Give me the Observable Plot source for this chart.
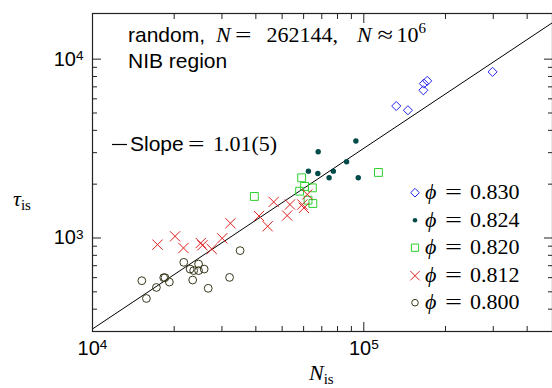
<!DOCTYPE html>
<html><head><meta charset="utf-8">
<script src="https://cdn.jsdelivr.net/npm/d3@7"></script>
<script src="https://cdn.jsdelivr.net/npm/@observablehq/plot@0.6"></script>
<style>body{margin:0;background:#fff}#chart svg{display:block}</style>
</head><body><div id="chart"></div>
<script>
// ---- data (N_is, tau_is) ----
const N830 = [1.317e5, 1.454e5, 1.657e5, 1.665e5, 1.713e5, 2.982e5];
const T830 = [5470, 5180, 6700, 7300, 7560, 8490];
const N824 = [6.25e4, 6.77e4, 6.79e4, 7.72e4, 7.45e4, 8.64e4, 9.35e4, 9.54e4];
const T824 = [2365, 2296, 3034, 2365, 2170, 2667, 3484, 2170];
const N820 = [3.95e4, 5.90e4, 6.05e4, 5.80e4, 6.46e4, 6.23e4, 6.49e4, 1.132e5];
const T820 = [1707, 2170, 1942, 1827, 1907, 1627, 1559, 2325];
const N812 = [1.736e4, 2.015e4, 2.164e4, 2.506e4, 2.542e4, 2.751e4, 3.006e4, 3.224e4, 4.108e4, 4.422e4, 4.654e4, 5.218e4, 5.344e4, 5.935e4, 6.016e4, 6.19e4];
const T812 = [918, 1022, 879, 937, 910, 868, 996, 1209, 1328, 1163, 1591, 1335, 1539, 1539, 1473, 1751];
const N800 = [1.52e4, 1.58e4, 1.72e4, 1.83e4, 1.85e4, 1.92e4, 2.17e4, 2.29e4, 2.36e4, 2.46e4, 2.46e4, 2.58e4, 2.34e4, 2.67e4, 3.20e4, 3.50e4];
const T800 = [577, 459, 529, 600, 600, 567, 731, 670, 657, 715, 657, 670, 582, 523, 602, 850];
// fit line endpoints (slope 1.01)
const fitN = [1e4, 4.96e5];
const fitT = [310, 16000];
const phiLabels = ["0.830", "0.824", "0.820", "0.812", "0.800"];
const xMajor = [1e4, 1e5];
const xMinor = [2e4, 3e4, 4e4, 5e4, 6e4, 7e4, 8e4, 9e4, 2e5, 3e5, 4e5];
const yMajor = [1e3, 1e4];
const yMinor = [400, 500, 600, 700, 800, 900, 2000, 3000, 4000, 5000, 6000, 7000, 8000, 9000];

const styles = [
  {symbol: "diamond2", stroke: "#2424f0", fill: "none", r: 4.1, legR: 3.9},
  {symbol: "circle", stroke: "none", fill: "#004a4a", r: 2.7, legR: 2.3},
  {symbol: "square2", stroke: "#2ed02e", fill: "none", r: 5.0, legR: 4.6},
  {symbol: "times", stroke: "#e02020", fill: "none", r: 4.7, legR: 4.3},
  {symbol: "circle", stroke: "#38381c", fill: "none", r: 3.9, legR: 3.3}
];
const seriesN = [N830, N824, N820, N812, N800];
const seriesT = [T830, T824, T820, T812, T800];
const fitRows = fitN.map((n, i) => ({n, t: fitT[i]}));

const dotMarks = seriesN.map((arr, s) => {
  const st = styles[s];
  const rows = arr.map((n, i) => ({n, t: seriesT[s][i]}));
  return Plot.dot(rows, {x: "n", y: "t", symbol: () => st.symbol, r: st.r,
    stroke: st.stroke, fill: st.fill, strokeWidth: 1});
});

const sup = d => "10^" + Math.round(Math.log10(d));
const tickStroke = "#222";
const MJ = 9, MN = 5;

const chart = Plot.plot({
  width: 552, height: 388,
  marginLeft: 92, marginRight: 0, marginTop: 13, marginBottom: 57,
  style: {fontFamily: "'Liberation Sans', Arial, sans-serif", fontSize: "20px", background: "#fff", color: "#000"},
  x: {type: "log", domain: [1e4, 4.96e5]},
  y: {type: "log", domain: [300, 1.8e4]},
  symbol: {type: "identity"},
  marks: [
    Plot.line(fitRows, {x: "n", y: "t", stroke: "black", strokeWidth: 1, clip: true}),
    ...dotMarks,
    // inward ticks on all four sides (outward ticks shifted inside the frame)
    Plot.axisX({ticks: xMajor, anchor: "bottom", tickSize: MJ, dy: -MJ, text: null, label: null, stroke: tickStroke}),
    Plot.axisX({ticks: xMinor, anchor: "bottom", tickSize: MN, dy: -MN, text: null, label: null, stroke: tickStroke}),
    Plot.axisX({ticks: xMajor, anchor: "top", tickSize: MJ, dy: MJ, text: null, label: null, stroke: tickStroke}),
    Plot.axisX({ticks: xMinor, anchor: "top", tickSize: MN, dy: MN, text: null, label: null, stroke: tickStroke}),
    Plot.axisY({ticks: yMajor, anchor: "left", tickSize: MJ, dx: MJ, text: null, label: null, stroke: tickStroke}),
    Plot.axisY({ticks: yMinor, anchor: "left", tickSize: MN, dx: MN, text: null, label: null, stroke: tickStroke}),
    Plot.axisY({ticks: yMajor, anchor: "right", tickSize: MJ, dx: -MJ, text: null, label: null, stroke: tickStroke}),
    Plot.axisY({ticks: yMinor, anchor: "right", tickSize: MN, dx: -MN, text: null, label: null, stroke: tickStroke}),
    // tick labels
    Plot.axisX({ticks: xMajor, anchor: "bottom", tickSize: 0, tickPadding: 9, tickFormat: sup, label: null}),
    Plot.axisY({ticks: yMajor, anchor: "left", tickSize: 0, tickPadding: 9, tickFormat: sup, label: null}),
    Plot.frame({stroke: "#222", strokeWidth: 1.2})
  ]
});
document.getElementById("chart").appendChild(chart);

const svg = d3.select(chart);
// convert 10^k labels to superscripts
svg.selectAll("text").each(function() {
  const t = this.textContent;
  const m = /^10\^(\d+)$/.exec(t);
  if (!m) return;
  const el = d3.select(this);
  el.text(null);
  el.append("tspan").text("10");
  el.append("tspan").attr("dy", "-0.42em").attr("font-size", "0.68em").text(m[1]);
});

const SERIF = "'Liberation Serif', 'DejaVu Serif', serif";
const SANS = "'Liberation Sans', Arial, sans-serif";
const g = svg.append("g").attr("text-anchor", "start");

// helper: a text with positioned pieces [x, string, {attrs}]
function pieces(y, parts, baseFont, baseSize) {
  const t = g.append("text").attr("y", y).attr("font-family", baseFont).attr("font-size", baseSize);
  parts.forEach(([x, s, a]) => {
    const sp = t.append("tspan").attr("x", x).text(s);
    if (a) Object.entries(a).forEach(([k, v]) => sp.attr(k, v));
  });
  return t;
}
const M = {"font-family": SERIF, "font-size": 22};
const MI = {"font-family": SERIF, "font-size": 22, "font-style": "italic"};
const EQ = w => ({"font-family": SERIF, "font-size": 22, textLength: w, lengthAdjust: "spacingAndGlyphs"});

// Annotation line 1
const t1 = pieces(42, [
  [128, "random,", null],
  [216, "N", MI],
  [235, "=", EQ(16.5)],
  [266.5, "262144,", M],
  [357, "N", MI],
  [377.5, "\u2248", EQ(15.5)],
  [396.5, "10", M]
], SANS, 21);
t1.append("tspan").attr("font-family", SERIF).attr("font-size", 15).attr("dy", -9).text("6");
g.append("text").attr("x", 128).attr("y", 67.5).attr("font-family", SANS).attr("font-size", 21).text("NIB region");

// slope legend entry
g.append("line").attr("x1", 112).attr("x2", 127).attr("y1", 144.5).attr("y2", 144.5).attr("stroke", "black").attr("stroke-width", 1.2);
pieces(151, [
  [130, "Slope", null],
  [188, "=", EQ(16.5)],
  [213, "1.01(5)", M]
], SANS, 21);

// phi legend
const symMap = {diamond2: d3.symbolDiamond2, circle: d3.symbolCircle, square2: d3.symbolSquare2, times: d3.symbolTimes};
const rowY = [192.7, 220.2, 247.7, 275.7, 302.7];
phiLabels.forEach((lab, i) => {
  const st = styles[i];
  g.append("path")
    .attr("transform", `translate(415,${rowY[i]})`)
    .attr("d", d3.symbol(symMap[st.symbol], Math.PI * st.legR * st.legR)())
    .attr("fill", st.fill).attr("stroke", st.stroke).attr("stroke-width", 1);
  pieces(rowY[i] + 6.5, [
    [425, "\u03D5", {"font-style": "italic"}],
    [445, "=", {textLength: 17, lengthAdjust: "spacingAndGlyphs"}],
    [470, lab, null]
  ], SERIF, 22);
});

// axis titles
const xl = g.append("text").attr("x", 309).attr("y", 380).attr("font-family", SERIF).attr("font-size", 22);
xl.append("tspan").attr("font-style", "italic").text("N");
xl.append("tspan").attr("font-size", 15).attr("dy", 4).text("is");
const yl = g.append("text").attr("x", 13).attr("y", 206).attr("font-family", SERIF).attr("font-size", 22);
yl.append("tspan").attr("font-style", "italic").text("\u03C4");
yl.append("tspan").attr("font-size", 15).attr("dy", 4).text("is");
</script>
</body></html>
